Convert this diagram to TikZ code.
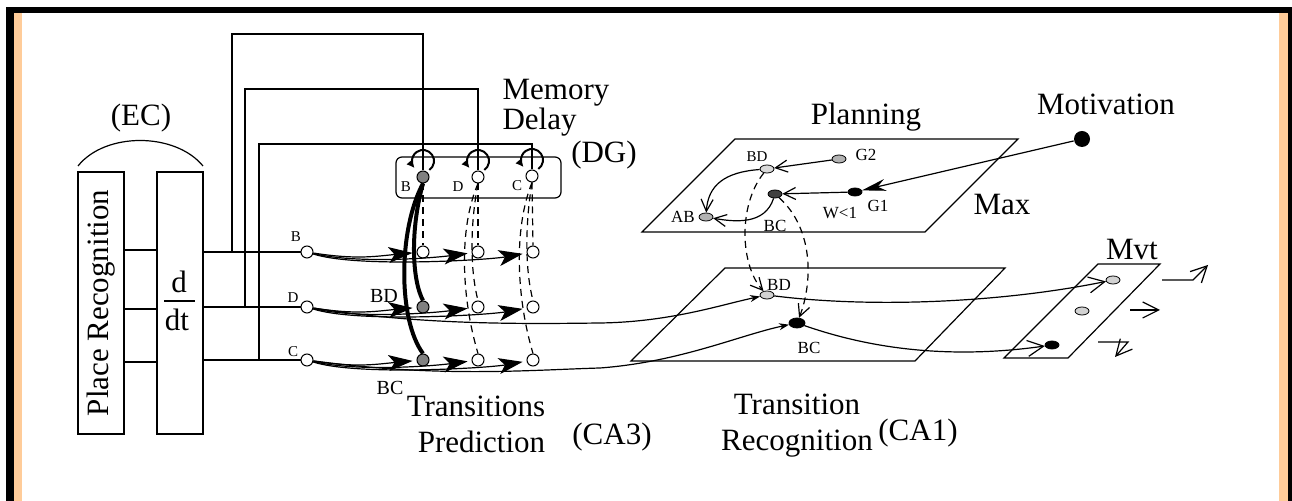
\documentclass[tikz,border=0pt]{standalone}
\usepackage{fontspec}
\setmainfont{Liberation Serif}
\usetikzlibrary{arrows.meta,shapes.geometric,calc,positioning}
\definecolor{peach}{RGB}{255,204,153}
\tikzset{
  big/.style={font=\fontsize{15.5}{18}\selectfont, inner sep=1pt},
  mid/.style={font=\fontsize{10}{12}\selectfont, inner sep=1pt},
  small/.style={font=\fontsize{8.5}{10}\selectfont, inner sep=1pt},
  tiny/.style={font=\fontsize{7.5}{9}\selectfont, inner sep=1pt},
  cell/.style={circle, draw, fill=white, inner sep=0pt, minimum size=6pt, line width=0.5pt},
  dcell/.style={cell, fill=gray},
  blob/.style={ellipse, draw, inner sep=0pt, minimum width=7pt, minimum height=4pt, line width=0.4pt},
  fwd/.style={-{Stealth[length=12pt,width=8pt,inset=3pt]}, shorten >=2pt},
  barb/.style={-{Straight Barb[length=6pt,width=6pt]}},
  bigbarb/.style={-{Straight Barb[length=8pt,width=8pt]}},
  tip/.style={-{Stealth[length=5pt,width=3.5pt]}},
  loopy/.style={-{Latex[length=4pt,width=4pt]}, line width=1pt},
  fb/.style={dash pattern=on 3.5pt off 2.5pt},
}
\begin{document}
\begin{tikzpicture}[x=0.5pt, y=-0.5pt, line width=0.6pt]
\useasboundingbox (0,0) rectangle (1292,501);
% Cadre
\fill[peach] (14,13) rectangle (22,501);
\fill[peach] (1279,13) rectangle (1288,501);
\fill (6,7) rectangle (1292,13);
\fill (6,7) rectangle (14,501);
\fill (1288,7) rectangle (1292,501);

% EC
\node[draw, rotate=90, big, minimum width=131pt, minimum height=23pt, inner sep=0pt] (place) at (101,303) {Place Recognition};
\node[draw, minimum width=23pt, minimum height=131pt, inner sep=0pt] (ddt) at (180,303) {};
\node[big] (dnum) at (179,282) {d};
\node[big] (dden) at (177,320) {dt};
\draw (164,301) -- (195,301);
\draw (78,166) .. controls (105,132) and (175,132) .. (203,166);
\node[big] (ec) at (141,118) {(EC)};
\foreach \y in {250,309,362}
  \draw (124,\y) -- (157,\y);

% Entrees CA3
\node[cell] (inB) at (307,252) {};
\node[cell] (inD) at (307,307) {};
\node[cell] (inC) at (307,360) {};
\node[tiny] (lB) at (296,237) {B};
\node[tiny] (lD) at (293,298) {D};
\node[tiny] (lC) at (293,352) {C};
\draw (203,252) -- (inB);
\draw (203,307) -- (inD);
\draw (203,360) -- (inC);

% DG
\node[draw, rounded corners=3pt, minimum width=82.5pt, minimum height=20.5pt, inner sep=0pt] (dg) at (478.5,177.5) {};
\node[dcell] (dgB) at (423,177) {};
\node[cell] (dgD) at (478,177) {};
\node[cell] (dgC) at (532,176) {};
\node[tiny] (dlB) at (406,187) {B};
\node[tiny] (dlD) at (458,187) {D};
\node[tiny] (dlC) at (517,186) {C};
\foreach \n in {dgB,dgD,dgC}
  \draw[loopy] ($(\n)+(0,-16)+(55:11)$) arc[start angle=55, end angle=-220, radius=11];
% Retours
\draw (232,252) -- (232,34) -| (dgB.north);
\draw (245,307) -- (245,89) -| (dgD.north);
\draw (259,360) -- (259,144) -| (dgC.north);
\node[big, anchor=west] (mem) at (500,93) {Memory};
\node[big, anchor=west] (del) at (500,122) {Delay};
\node[big] (dglab) at (604,155) {(DG)};

% CA3
\node[cell] (pB1) at (423,252) {};
\node[dcell] (pD1) at (423,307) {};
\node[dcell] (pC1) at (423,360) {};
\foreach \r/\y in {B/252, D/307, C/360}
  \foreach \k/\x in {2/478, 3/533}
    \node[cell] (p\r\k) at (\x,\y) {};
\foreach \r in {B,D,C}
  \foreach \k/\d in {1/8, 2/12, 3/16}
    \draw[fwd] (in\r) .. controls +(50,\d) and +(-45,0.5*\d) .. (p\r\k);
\draw[line width=2pt] (dgB.south) .. controls (410,230) and (412,280) .. (pD1.north);
\draw[line width=2pt] (dgB.south) .. controls (398,230) and (398,320) .. (pC1.north);
\draw[fb] (dgB.south) -- (pB1.north);
\draw[fb] (dgD.south) -- (pB2.north);
\draw[fb] (dgC.south) -- (pB3.north);
\draw[fb] (dgD.south) .. controls (470,225) and (470,270) .. (pD2.north);
\draw[fb] (dgD.south) .. controls (458,230) and (462,300) .. (pC2.north);
\draw[fb] (dgC.south) .. controls (525,225) and (525,270) .. (pD3.north);
\draw[fb] (dgC.south) .. controls (513,230) and (517,300) .. (pC3.north);
\node[mid] (tBD) at (384,296) {BD};
\node[mid] (tBC) at (390,388) {BC};
\node[big, align=right] (trp) at (476,424) {Transitions\\Prediction};
\node[big] (ca3) at (612,437) {(CA3)};

% CA1
\draw (631,361) -- (915,361) -- (1005,268) -- (725,268) -- cycle;
\node[blob, fill=gray!35] (caBD) at (767,295) {};
\node[blob, fill=black, minimum width=8pt, minimum height=5pt] (caBC) at (797,323) {};
\node[small] (clBD) at (779,285) {BD};
\node[small] (clBC) at (809,348) {BC};
\draw[tip] (inD) .. controls (420,325) and (520,324) .. (600,323) .. controls (670,322) and (720,305) .. (caBD);
\draw[tip] (inC) .. controls (440,378) and (530,370) .. (600,368) .. controls (680,362) and (740,335) .. (caBC);
\node[big, align=center] (trr) at (797,426) {Transition\\Recognition};
\node[big] (ca1) at (918,433) {(CA1)};

% Planning
\draw (642,232) -- (925,232) -- (1018,139) -- (735,139) -- cycle;
\node[big] (plan) at (866,117) {Planning};
\node[big] (max) at (1002,205) {Max};
\node[blob, fill=gray!30] (plBD) at (767,169) {};
\node[blob, fill=gray!60] (plG2) at (839,159) {};
\node[blob, fill=darkgray] (plBC) at (775,194) {};
\node[blob, fill=black] (plG1) at (855,192) {};
\node[blob, fill=gray!60] (plAB) at (706,217) {};
\node[tiny] at (757,157) {BD};
\node[small] at (866,155) {G2};
\node[small] at (840,213) {W<1};
\node[small] at (878,206) {G1};
\node[small] at (683,217) {AB};
\node[small] at (775,226) {BC};
\draw[barb] (plG2) -- (plBD);
\draw[barb] (plG1) -- (plBC);
\draw[barb] (plBD) .. controls (725,172) and (708,185) .. (plAB);
\draw[barb] (plBC) .. controls (765,225) and (735,222) .. (plAB);
\draw[fb, barb] (plBD) .. controls (738,205) and (740,265) .. (caBD);
\draw[fb, barb] (plBC) .. controls (815,230) and (812,285) .. (caBC);
\node[circle, fill, inner sep=0pt, minimum size=8pt] (moti) at (1082,139) {};
\node[big] (motl) at (1106,104) {Motivation};
\draw[-{Stealth[length=12pt,width=6pt]}] (moti) -- (plG1);

% Mvt
\draw (1004,358) -- (1068,358) -- (1160,264) -- (1098,264) -- cycle;
\node[big] (mvt) at (1132,250) {Mvt};
\node[blob, fill=gray!35] (mvA) at (1113,280) {};
\node[blob, fill=gray!35] (mvB) at (1082,311) {};
\node[blob, fill=black] (mvC) at (1052,345) {};
\draw[bigbarb] (caBD) .. controls (870,308) and (1000,303) .. (mvA);
\draw[bigbarb] (caBC) .. controls (880,352) and (960,358) .. (mvC);
\draw[bigbarb] (1162,280) -- (1193,280) -- (1208,265);
\draw[bigbarb] (1130,310) -- (1160,310);
\draw[bigbarb] (1098,342) -- (1128,342) -- (1115,357);
\end{tikzpicture}
\end{document}
